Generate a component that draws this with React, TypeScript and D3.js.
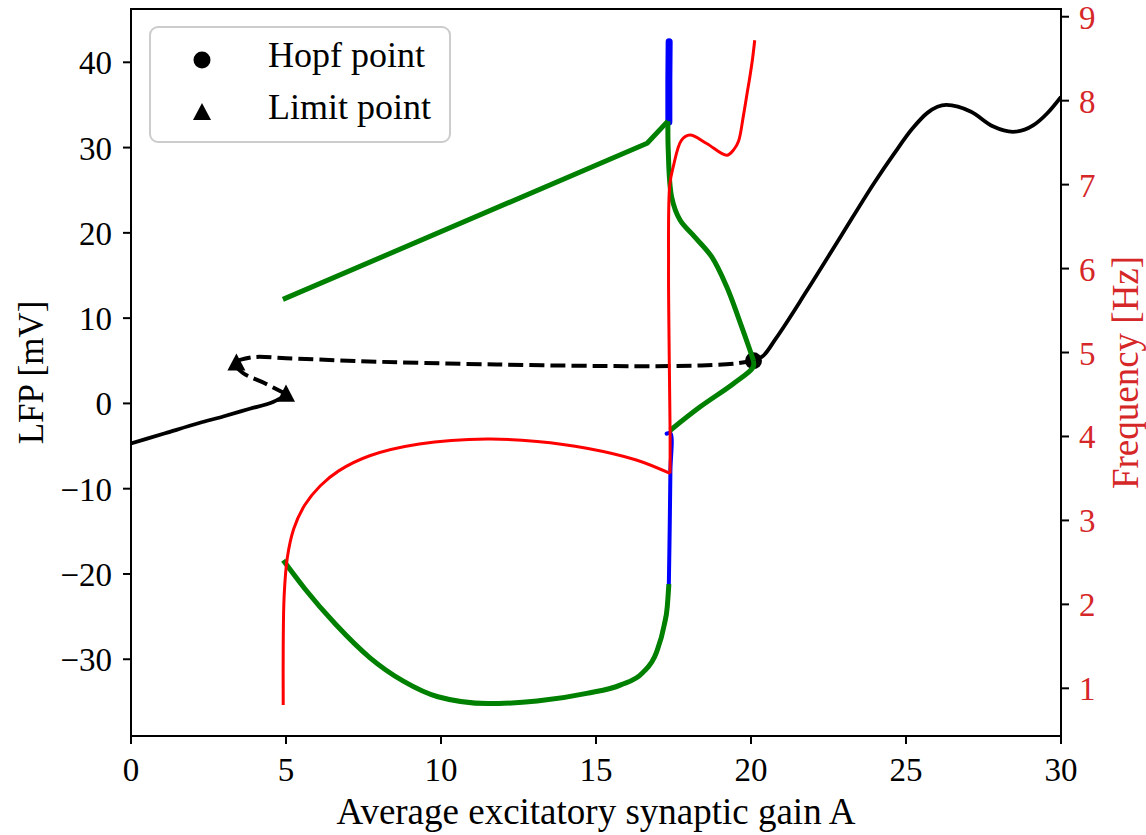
import React from "react";
import * as d3 from "d3";

type P = [number, number];

// axis ticks
const xTicks = [0, 5, 10, 15, 20, 25, 30];
const lfpTicks = [-30, -20, -10, 0, 10, 20, 30, 40];
const freqTicks = [1, 2, 3, 4, 5, 6, 7, 8, 9];

// equilibrium branches (LFP, left axis)
const stableLow: P[] = [[0, -4.7], [1.1, -3.5], [2.2, -2.3], [3.0, -1.5], [3.8, -0.65], [4.6, 0.2], [5.0, 0.95]];
const unstable: P[] = [
  [5.0, 1.1], [4.3, 2.4], [3.6, 3.6], [3.35, 4.7], [3.9, 5.4], [5.0, 5.3], [7.3, 4.96], [11.8, 4.56],
  [16.2, 4.37], [18.4, 4.45], [19.5, 4.68], [20.08, 5.0],
];
const stableHigh: P[] = [
  [20.08, 5.0], [20.4, 5.6], [20.8, 7.6], [21.8, 13.2], [22.9, 19.6], [24.0, 26.0], [24.6, 29.2], [25.2, 32.2],
  [25.7, 34.1], [26.3, 35.0], [27.1, 34.2], [27.8, 32.5], [28.45, 31.85], [29.1, 32.6], [29.55, 34.0], [30, 35.95],
];
const hopfPoints: P[] = [[20.08, 5.0]];
const limitPoints: P[] = [[3.4, 4.8], [5.0, 1.15]];

// limit cycle extrema (LFP, left axis)
const greenRise: P[] = [[4.9, 12.2], [16.65, 30.5], [17.32, 33.1]];
const greenFall: P[] = [
  [17.32, 33.1], [17.33, 29.7], [17.44, 24.2], [17.71, 21.5], [18.19, 19.5], [18.73, 17.2], [19.22, 13.65],
  [19.59, 10.1], [19.97, 6.2], [20.08, 5.0],
];
const greenMid: P[] = [[17.39, -3.17], [18.35, -0.43], [19.43, 2.31], [20.07, 4.26], [20.08, 5.0]];
const greenLow: P[] = [
  [4.91, -18.4], [5.6, -21.7], [6.6, -25.9], [7.7, -29.8], [8.8, -32.6], [9.9, -34.4], [11.5, -35.2],
  [13.1, -34.9], [14.7, -34.0], [15.8, -33.0], [16.5, -31.6], [16.95, -29.2], [17.2, -26.0], [17.3, -23.8], [17.35, -21.2],
];
const blueTop: P[] = [[17.35, 33.0], [17.35, 38.0], [17.36, 42.4]];
const blueLow: P[] = [[17.35, -21.2], [17.38, -14], [17.4, -8], [17.4, -3.5], [17.28, -3.55]];

// frequency (right axis)
const freqLow: P[] = [
  [4.91, 0.8], [4.91, 1.5], [4.94, 2.1], [5.04, 2.55], [5.25, 2.9], [5.6, 3.18], [6.1, 3.41], [6.7, 3.59],
  [7.7, 3.77], [9.3, 3.91], [11.5, 3.97], [13.1, 3.94], [14.7, 3.86], [16.3, 3.72], [17.39, 3.56],
];
const freqHigh: P[] = [
  [17.39, 3.56], [17.39, 4.05], [17.36, 5.03], [17.34, 6.02], [17.38, 7.0], [17.49, 7.21], [17.76, 7.53],
  [18.03, 7.59], [18.57, 7.49], [19.22, 7.35], [19.45, 7.42], [19.6, 7.52], [19.75, 7.81], [19.88, 8.1],
  [19.97, 8.3], [20.05, 8.5], [20.12, 8.72],
];

const FONT = "'Liberation Serif', 'Times New Roman', serif";
const RED_TXT = "#d62728";

export default function App() {
  const left = 131, right = 1061, top = 9, bottom = 736;
  const x = d3.scaleLinear().domain([0, 30]).range([left, right]);
  const yL = d3.scaleLinear().domain([-39.0, 46.25]).range([bottom, top]);
  const yR = d3.scaleLinear().domain([0.432, 9.092]).range([bottom, top]);

  const smoothL = d3.line<P>().x(d => x(d[0])).y(d => yL(d[1])).curve(d3.curveCatmullRom.alpha(0.5));
  const monoL = d3.line<P>().x(d => x(d[0])).y(d => yL(d[1])).curve(d3.curveMonotoneX);
  const straightL = d3.line<P>().x(d => x(d[0])).y(d => yL(d[1]));
  const smoothR = d3.line<P>().x(d => x(d[0])).y(d => yR(d[1])).curve(d3.curveCatmullRom.alpha(0.5));

  const tri = (cx: number, cy: number, s: number) =>
    `M${cx},${cy - s} L${cx + s},${cy + s * 0.9} L${cx - s},${cy + s * 0.9} Z`;

  return (
    <svg width={1146} height={835} style={{ position: "absolute", left: 0, top: 0, background: "#fff" }}>
      <defs>
        <clipPath id="plot">
          <rect x={left} y={top} width={right - left} height={bottom - top} />
        </clipPath>
      </defs>

      <g clipPath="url(#plot)" fill="none" strokeLinejoin="round">
        <path d={monoL(stableLow) || ""} stroke="#000" strokeWidth={3.8} />
        <path d={smoothL(unstable) || ""} stroke="#000" strokeWidth={4} strokeDasharray="15 6" />
        <path d={monoL(stableHigh) || ""} stroke="#000" strokeWidth={3.8} />
      </g>

      {hopfPoints.map((d, i) => (
        <circle key={"h" + i} cx={x(d[0])} cy={yL(d[1])} r={8.5} fill="#000" />
      ))}
      {limitPoints.map((d, i) => (
        <path key={"l" + i} d={tri(x(d[0]), yL(d[1]), 9)} fill="#000" />
      ))}

      <g clipPath="url(#plot)" fill="none" strokeLinejoin="round">
        <path d={straightL(blueTop) || ""} stroke="#0000ff" strokeWidth={7} strokeLinecap="round" />
        <path d={smoothL(blueLow) || ""} stroke="#0000ff" strokeWidth={4} strokeLinecap="round" />
        <path d={straightL(greenRise) || ""} stroke="#008000" strokeWidth={5} />
        <path d={smoothL(greenFall) || ""} stroke="#008000" strokeWidth={5} />
        <path d={smoothL(greenMid) || ""} stroke="#008000" strokeWidth={5} />
        <path d={monoL(greenLow) || ""} stroke="#008000" strokeWidth={5} />
        <path d={smoothR(freqLow) || ""} stroke="#ff0000" strokeWidth={3} />
        <path d={smoothR(freqHigh) || ""} stroke="#ff0000" strokeWidth={3} />
      </g>

      {/* frame */}
      <rect x={left} y={top} width={right - left} height={bottom - top} fill="none" stroke="#000" strokeWidth={2} />

      {/* bottom axis */}
      {xTicks.map(t => (
        <g key={"x" + t}>
          <line x1={x(t)} x2={x(t)} y1={bottom} y2={bottom + 8} stroke="#000" strokeWidth={2} />
          <text x={x(t)} y={781} fontFamily={FONT} fontSize={33} textAnchor="middle" fill="#000">{String(t)}</text>
        </g>
      ))}
      <text x={(left + right) / 2} y={824} fontFamily={FONT} fontSize={37} textAnchor="middle" fill="#000">
        Average excitatory synaptic gain A
      </text>

      {/* left axis */}
      {lfpTicks.map(t => (
        <g key={"yl" + t}>
          <line x1={left - 8} x2={left} y1={yL(t)} y2={yL(t)} stroke="#000" strokeWidth={2} />
          <text x={112} y={yL(t) + 12} fontFamily={FONT} fontSize={33} textAnchor="end" fill="#000">
            {t < 0 ? "\u2212" + Math.abs(t) : String(t)}
          </text>
        </g>
      ))}
      <text transform={`translate(43,${(top + bottom) / 2}) rotate(-90)`} fontFamily={FONT} fontSize={35} textAnchor="middle" fill="#000">
        LFP [mV]
      </text>

      {/* right axis */}
      {freqTicks.map(t => (
        <g key={"yr" + t}>
          <line x1={right} x2={right + 8} y1={yR(t)} y2={yR(t)} stroke="#000" strokeWidth={2} />
          <text x={1079} y={yR(t) + 12} fontFamily={FONT} fontSize={33} textAnchor="start" fill={RED_TXT}>{String(t)}</text>
        </g>
      ))}
      <text transform={`translate(1138,${(top + bottom) / 2}) rotate(-90)`} fontFamily={FONT} fontSize={37} textAnchor="middle" fill={RED_TXT}>
        Frequency [Hz]
      </text>

      {/* legend */}
      <rect x={150} y={27} width={300} height={115} rx={8} fill="#fff" fillOpacity={0.8} stroke="#cccccc" strokeWidth={2} />
      <circle cx={202} cy={60} r={8.5} fill="#000" />
      <path d={tri(202, 112, 9)} fill="#000" />
      <text x={268} y={67} fontFamily={FONT} fontSize={36} fill="#000">Hopf point</text>
      <text x={268} y={119} fontFamily={FONT} fontSize={36} fill="#000">Limit point</text>
    </svg>
  );
}
